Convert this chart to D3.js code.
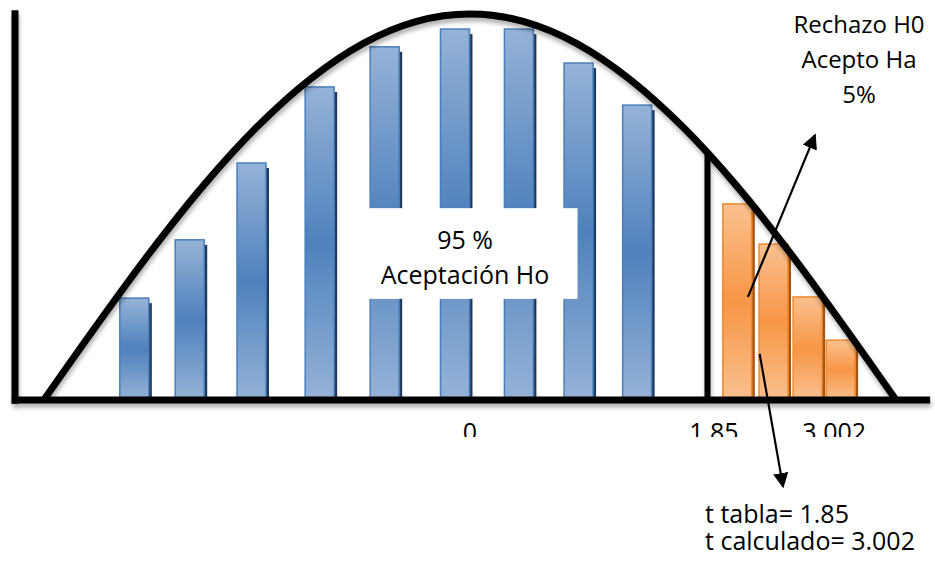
<!DOCTYPE html>
<html lang="es">
<head>
<meta charset="UTF-8">
<script src="https://d3js.org/d3.v7.min.js"></script>
<style>
    body { margin: 0; background: #fff; font-family: "Open Sans", sans-serif; }
    text { fill: #000; }
</style>
</head>
<body>
<div id="chart"></div>
<script>
// datos (posicion en unidades t, altura relativa)
const blueX = [-3.15, -2.63, -2.05, -1.41, -0.80, -0.14, 0.46, 1.02, 1.57];
const blueY = [0.264, 0.415, 0.614, 0.811, 0.915, 0.961, 0.961, 0.873, 0.764];
const orangeX = [2.51, 2.85, 3.17, 3.48];
const orangeY = [0.508, 0.404, 0.267, 0.155];
// curva normal dibujada a mano
const curveX = [-4, -3.5, -3, -2.5, -2, -1.5, -1, -0.5, 0, 0.5, 1, 1.5, 2, 2.5, 3, 3.5, 4];
const curveY = [0, 0.195, 0.383, 0.556, 0.707, 0.831, 0.924, 0.981, 1, 0.981, 0.924, 0.831, 0.707, 0.556, 0.383, 0.195, 0];
const tickLabels = ["0", "1.85", "3.002"];
const tickPos = [0, 2.29, 3.42];
const tCritico = 2.23;

const W = 935, H = 565;
const svg = d3.select("#chart").append("svg").attr("width", W).attr("height", H);

const x = d3.scaleLinear().domain([-4.27, 4.3]).range([15, 928]);
const y = d3.scaleLinear().domain([0, 1]).range([400, 14]);
const barW = 29;

const defs = svg.append("defs");
function grad(id, light, dark) {
    const g = defs.append("linearGradient").attr("id", id)
        .attr("x1", 0).attr("y1", 0).attr("x2", 0).attr("y2", 1);
    g.append("stop").attr("offset", "0%").attr("stop-color", light);
    g.append("stop").attr("offset", "50%").attr("stop-color", dark);
    g.append("stop").attr("offset", "100%").attr("stop-color", light);
}
grad("gBlue", "#95b3d7", "#4f81bd");
grad("gOrange", "#fac08f", "#f79646");

const f = defs.append("filter").attr("id", "sombra")
    .attr("x", "-5%").attr("y", "-5%").attr("width", "110%").attr("height", "115%");
f.append("feDropShadow").attr("dx", 1).attr("dy", 4).attr("stdDeviation", 2)
    .attr("flood-color", "#000").attr("flood-opacity", 0.3);

defs.append("clipPath").attr("id", "corte")
    .append("rect").attr("x", 0).attr("y", 0).attr("width", W).attr("height", 437);

defs.append("marker").attr("id", "flecha")
    .attr("viewBox", "0 0 10 10").attr("refX", 9).attr("refY", 5)
    .attr("markerWidth", 7).attr("markerHeight", 7).attr("orient", "auto")
    .append("path").attr("d", "M0,0 L10,5 L0,10 z").attr("fill", "#000");

function barras(xs, ys, fill, stroke, shadow) {
    const data = xs.map((v, i) => ({ x: v, y: ys[i] }));
    const g = svg.append("g");
    g.selectAll(".sh").data(data).enter().append("rect")
        .attr("x", d => x(d.x) - barW / 2 + 3)
        .attr("y", d => y(d.y) + 5)
        .attr("width", barW)
        .attr("height", d => y(0) - y(d.y) - 2)
        .attr("fill", shadow);
    g.selectAll(".bar").data(data).enter().append("rect")
        .attr("x", d => x(d.x) - barW / 2)
        .attr("y", d => y(d.y))
        .attr("width", barW)
        .attr("height", d => y(0) - y(d.y))
        .attr("fill", fill)
        .attr("stroke", stroke)
        .attr("stroke-width", 1.5);
}
barras(blueX, blueY, "url(#gBlue)", "#4a7ebb", "#1f3a5f");
barras(orangeX, orangeY, "url(#gOrange)", "#f08a2c", "#a65412");

// ejes y curva
const lineas = svg.append("g").attr("filter", "url(#sombra)");
lineas.append("line")
    .attr("x1", x(-4.27)).attr("x2", x(-4.27))
    .attr("y1", y(1.01)).attr("y2", y(-0.01))
    .attr("stroke", "#000").attr("stroke-width", 7);
lineas.append("line")
    .attr("x1", x(-4.3)).attr("x2", x(4.32))
    .attr("y1", y(0)).attr("y2", y(0))
    .attr("stroke", "#000").attr("stroke-width", 7);
lineas.append("path")
    .datum(curveX.map((v, i) => [v, curveY[i]]))
    .attr("d", d3.line().x(d => x(d[0])).y(d => y(d[1])).curve(d3.curveMonotoneX))
    .attr("fill", "none").attr("stroke", "#000").attr("stroke-width", 7);
lineas.append("line")
    .attr("x1", x(tCritico)).attr("x2", x(tCritico))
    .attr("y1", y(0.64)).attr("y2", y(0))
    .attr("stroke", "#000").attr("stroke-width", 6);

// etiquetas del eje (cortadas abajo como en la figura)
svg.append("g").attr("clip-path", "url(#corte)")
    .selectAll("text").data(tickLabels).enter().append("text")
    .attr("x", (d, i) => x(tickPos[i]))
    .attr("y", 441)
    .attr("text-anchor", "middle")
    .attr("font-size", 25)
    .text(d => d);

// recuadro central
svg.append("rect")
    .attr("x", x(-0.98)).attr("y", y(0.497))
    .attr("width", x(1.01) - x(-0.98)).attr("height", y(0.262) - y(0.497))
    .attr("fill", "#fff");
const centro = svg.append("text").attr("text-anchor", "middle").attr("font-size", 25);
centro.append("tspan").attr("x", 465).attr("y", 249).text("95 %");
centro.append("tspan").attr("x", 465).attr("y", 284).text("Aceptación Ho");

// texto superior derecho
const sup = svg.append("text").attr("text-anchor", "middle").attr("font-size", 24);
["Rechazo H0", "Acepto Ha", "5%"].forEach((t, i) =>
    sup.append("tspan").attr("x", 859).attr("y", 33 + i * 35).text(t));

// texto inferior derecho
const inf = svg.append("text").attr("font-size", 25);
["t tabla= 1.85", "t calculado= 3.002"].forEach((t, i) =>
    inf.append("tspan").attr("x", 705).attr("y", 523 + i * 27).text(t));

// flechas
svg.append("line")
    .attr("x1", x(2.61)).attr("y1", y(0.267))
    .attr("x2", x(3.24)).attr("y2", y(0.687))
    .attr("stroke", "#000").attr("stroke-width", 2.2)
    .attr("marker-end", "url(#flecha)");
svg.append("line")
    .attr("x1", x(2.72)).attr("y1", y(0.119))
    .attr("x2", x(2.94)).attr("y2", y(-0.225))
    .attr("stroke", "#000").attr("stroke-width", 2.2)
    .attr("marker-end", "url(#flecha)");
</script>
</body>
</html>
